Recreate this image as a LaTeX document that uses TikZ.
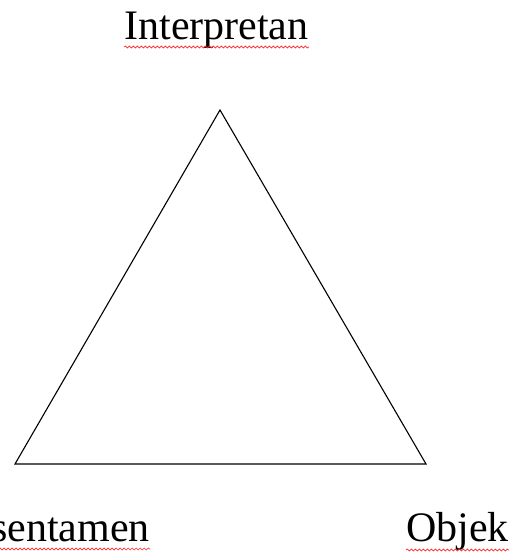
\documentclass[tikz,border=0pt]{standalone}
\usepackage{fontspec}
\setmainfont{Liberation Serif}
\usetikzlibrary{decorations.pathmorphing}
\tikzset{
  lbl/.style={inner sep=0pt, font=\fontsize{42}{50}\selectfont},
  edge/.style={draw=black, line width=1.1pt, line join=miter},
  spell/.style={draw=red!85!white, line width=0.7pt, decorate,
    decoration={snake, amplitude=1pt, segment length=4pt}}
}
\begin{document}
\begin{tikzpicture}[x=1pt,y=1pt]
\useasboundingbox (0,0) rectangle (523,553);
\coordinate (top) at (220,443);
\coordinate (bl) at (15,89);
\coordinate (br) at (426,89);
\draw[edge] (top) -- (br) -- (bl) -- cycle;
\node[lbl, anchor=base] (it) at (216.5,513) {Interpretan};
\node[lbl, anchor=base east] (rp) at (150,12) {sentamen};
\node[lbl, anchor=base west] (ob) at (406,12) {Objek};
\draw[spell] ([yshift=-7pt]it.base west) -- ([yshift=-7pt]it.base east);
\draw[spell] ([yshift=-8pt]rp.base west) -- ([yshift=-8pt]rp.base east);
\draw[spell] ([yshift=-9pt]ob.base west) -- ([yshift=-9pt]ob.base east);
\end{tikzpicture}
\end{document}
